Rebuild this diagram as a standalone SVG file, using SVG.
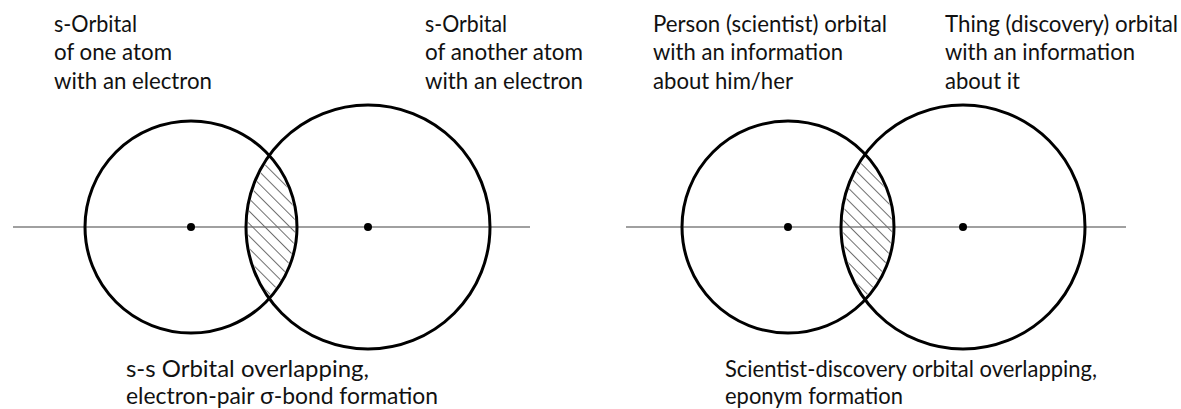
<svg xmlns="http://www.w3.org/2000/svg" width="1181" height="409" viewBox="0 0 1181 409">
<style>
.orb{fill:none;stroke:#000;stroke-width:3}
.axis{stroke:#808080;stroke-width:1.4;fill:none}
.dot{fill:#000}
.lbl{font-family:Lato,"Open Sans","Liberation Sans",sans-serif;font-size:22.5px;fill:#111}
.hatch{fill:url(#hatch);stroke:none}
</style>
<defs>
<pattern id="hatch" patternUnits="userSpaceOnUse" width="8.8" height="8.8" patternTransform="rotate(-45)">
<line x1="0.5" y1="0" x2="0.5" y2="8.8" stroke="#6e6e6e" stroke-width="1"/>
</pattern>
<clipPath id="clipL"><circle cx="191" cy="227" r="104"/></clipPath>
<clipPath id="clipR"><circle cx="788" cy="227" r="104"/></clipPath>
</defs>
<g id="connectors">
<line class="axis" x1="13" y1="227" x2="530" y2="227"/>
<line class="axis" x1="626" y1="227" x2="1126" y2="227"/>
</g>
<g id="left-overlap">
<circle class="hatch" cx="368" cy="227" r="120" clip-path="url(#clipL)"/>
</g>
<g id="left-atom1">
<circle class="orb" cx="191" cy="227" r="106"/>
<circle class="dot" cx="191" cy="227" r="4"/>
<text class="lbl" x="54" y="31.5" textLength="83" lengthAdjust="spacingAndGlyphs">s-Orbital</text>
<text class="lbl" x="54" y="60" textLength="118" lengthAdjust="spacingAndGlyphs">of one atom</text>
<text class="lbl" x="54" y="88.5" textLength="158" lengthAdjust="spacingAndGlyphs">with an electron</text>
</g>
<g id="left-atom2">
<circle class="orb" cx="368" cy="227" r="122"/>
<circle class="dot" cx="368" cy="227" r="4"/>
<text class="lbl" x="425" y="31.5" textLength="82" lengthAdjust="spacingAndGlyphs">s-Orbital</text>
<text class="lbl" x="425" y="60" textLength="158" lengthAdjust="spacingAndGlyphs">of another atom</text>
<text class="lbl" x="425" y="88.5" textLength="158" lengthAdjust="spacingAndGlyphs">with an electron</text>
</g>
<g id="left-caption">
<text class="lbl" x="126" y="377" textLength="243" lengthAdjust="spacingAndGlyphs">s-s Orbital overlapping,</text>
<text class="lbl" x="126" y="403.5" textLength="312" lengthAdjust="spacingAndGlyphs">electron-pair σ-bond formation</text>
</g>
<g id="right-overlap">
<circle class="hatch" cx="963" cy="227" r="120" clip-path="url(#clipR)"/>
</g>
<g id="right-person">
<circle class="orb" cx="788" cy="227" r="106"/>
<circle class="dot" cx="788" cy="227" r="4"/>
<text class="lbl" x="653" y="31.5" textLength="234" lengthAdjust="spacingAndGlyphs">Person (scientist) orbital</text>
<text class="lbl" x="653" y="60" textLength="190" lengthAdjust="spacingAndGlyphs">with an information</text>
<text class="lbl" x="653" y="88.5" textLength="140" lengthAdjust="spacingAndGlyphs">about him/her</text>
</g>
<g id="right-thing">
<circle class="orb" cx="963" cy="227" r="122"/>
<circle class="dot" cx="963" cy="227" r="4"/>
<text class="lbl" x="945" y="31.5" textLength="233" lengthAdjust="spacingAndGlyphs">Thing (discovery) orbital</text>
<text class="lbl" x="945" y="60" textLength="190" lengthAdjust="spacingAndGlyphs">with an information</text>
<text class="lbl" x="945" y="88.5" textLength="75" lengthAdjust="spacingAndGlyphs">about it</text>
</g>
<g id="right-caption">
<text class="lbl" x="725" y="377" textLength="372" lengthAdjust="spacingAndGlyphs">Scientist-discovery orbital overlapping,</text>
<text class="lbl" x="725" y="403.5" textLength="178" lengthAdjust="spacingAndGlyphs">eponym formation</text>
</g>
</svg>
